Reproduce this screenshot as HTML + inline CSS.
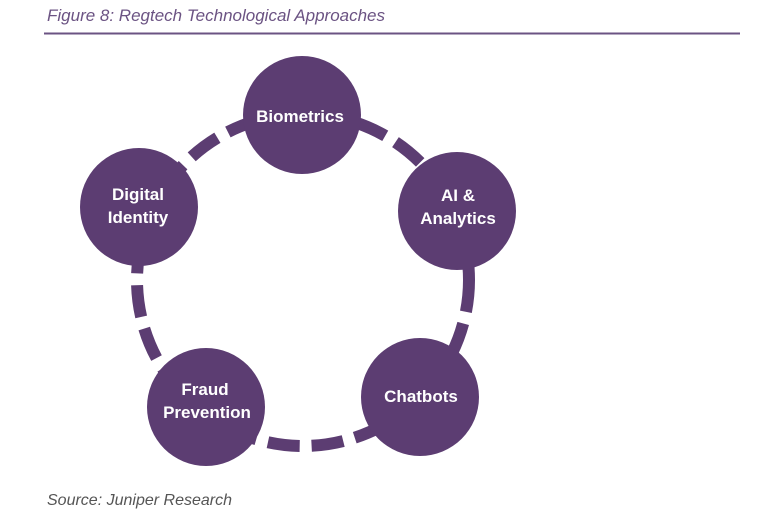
<!DOCTYPE html>
<html><head><style>
body{margin:0;width:768px;height:520px;background:#fff;overflow:hidden;font-family:"Liberation Sans",sans-serif}
</style></head><body>
<svg width="768" height="520" xmlns="http://www.w3.org/2000/svg">
<text x="47" y="21" font-family="Liberation Sans, sans-serif" font-style="italic" font-size="17" fill="#6b5383">Figure 8: Regtech Technological Approaches</text>
<line x1="44" y1="33.5" x2="740" y2="33.5" stroke="#6b5383" stroke-width="2"/>
<circle cx="303" cy="280" r="166" fill="none" stroke="#5c3d72" stroke-width="12" stroke-dasharray="32 12"/>
<g fill="#5c3d72">
<circle cx="302" cy="115" r="59"/>
<circle cx="457" cy="211" r="59"/>
<circle cx="420" cy="397" r="59"/>
<circle cx="206" cy="407" r="59"/>
<circle cx="139" cy="207" r="59"/>
</g>
<g fill="#fff" font-family="Liberation Sans, sans-serif" font-weight="bold" font-size="17" text-anchor="middle">
<text x="300" y="122">Biometrics</text>
<text x="458" y="201">AI &amp;</text>
<text x="458" y="224">Analytics</text>
<text x="421" y="402">Chatbots</text>
<text x="205" y="395">Fraud</text>
<text x="207" y="418">Prevention</text>
<text x="138" y="200">Digital</text>
<text x="138" y="223">Identity</text>
</g>
<text x="47" y="505" font-family="Liberation Sans, sans-serif" font-style="italic" font-size="16" fill="#555">Source: Juniper Research</text>
</svg>
</body></html>
